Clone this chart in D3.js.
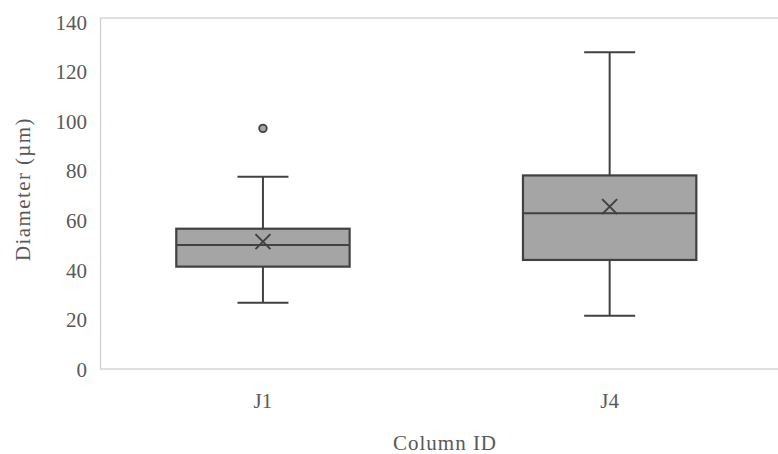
<!DOCTYPE html>
<html>
<head>
<meta charset="utf-8">
<script src="https://cdn.jsdelivr.net/npm/d3@7"></script>
<style>
  html, body { margin: 0; padding: 0; background: #ffffff; }
  svg { display: block; }
  text { font-family: "Liberation Serif", "DejaVu Serif", serif; fill: #595959; }
</style>
</head>
<body>
<svg id="chart" width="778" height="454"></svg>
<script>
// ---- data ----
const categories = ["J1", "J4"];
const mins     = [26.9, 21.7];
const q1s      = [41.5, 44.2];
const medians  = [50.2, 63.0];
const q3s      = [56.8, 78.3];
const maxs     = [77.8, 128.0];
const means    = [51.6, 65.7];
const outliers = [[97.3], []];
const yTicks   = [0, 20, 40, 60, 80, 100, 120, 140];
const yTitle   = "Diameter (µm)";
const xTitle   = "Column ID";

// ---- layout ----
const W = 778, H = 454;
const svg = d3.select("#chart");
const frame = { left: 100.5, top: 18, right: 790, bottom: 369 };

const y = d3.scaleLinear().domain([0, 140]).range([369.5, 22.5]);
const x = d3.scaleBand().domain(categories).range([89.6, 783]).padding(0);

const fill = "#a5a5a5", stroke = "#414141";

// plot-area frame
svg.append("rect")
  .attr("x", frame.left).attr("y", frame.top)
  .attr("width", frame.right - frame.left).attr("height", frame.bottom - frame.top)
  .attr("fill", "none").attr("stroke", "#d0d0d0").attr("stroke-width", 1.3);

// y axis
const yAxis = svg.append("g")
  .attr("transform", `translate(${frame.left},0)`)
  .call(d3.axisLeft(y).tickValues(yTicks).tickSize(0).tickPadding(13.5));
yAxis.select(".domain").remove();
yAxis.selectAll("text").style("font-size", "21px").attr("fill", "#595959")
  .style("font-family", '"Liberation Serif", serif');

// x axis
const xAxis = svg.append("g")
  .attr("transform", `translate(0,${frame.bottom})`)
  .call(d3.axisBottom(x).tickSize(0).tickPadding(24));
xAxis.select(".domain").remove();
xAxis.selectAll("text").style("font-size", "21px").attr("fill", "#595959")
  .style("font-family", '"Liberation Serif", serif');

// titles
svg.append("text")
  .attr("transform", `translate(30,189) rotate(-90)`)
  .attr("text-anchor", "middle")
  .style("font-size", "21px").style("letter-spacing", "1.4px")
  .text(yTitle);
svg.append("text")
  .attr("x", 445).attr("y", 450)
  .attr("text-anchor", "middle")
  .style("font-size", "21px").style("letter-spacing", "1px")
  .text(xTitle);

// boxes
const bw = x.bandwidth() * 0.5;
const capW = 51;
const g = svg.append("g");
categories.forEach((c, i) => {
  const cx = x(c) + x.bandwidth() / 2;
  // whiskers
  g.append("line").attr("x1", cx).attr("x2", cx).attr("y1", y(q3s[i])).attr("y2", y(maxs[i]))
    .attr("stroke", stroke).attr("stroke-width", 2);
  g.append("line").attr("x1", cx).attr("x2", cx).attr("y1", y(q1s[i])).attr("y2", y(mins[i]))
    .attr("stroke", stroke).attr("stroke-width", 2);
  // caps
  [maxs[i], mins[i]].forEach(v => {
    g.append("line").attr("x1", cx - capW / 2).attr("x2", cx + capW / 2)
      .attr("y1", y(v)).attr("y2", y(v))
      .attr("stroke", stroke).attr("stroke-width", 2);
  });
  // box
  g.append("rect")
    .attr("x", cx - bw / 2).attr("y", y(q3s[i]))
    .attr("width", bw).attr("height", y(q1s[i]) - y(q3s[i]))
    .attr("fill", fill).attr("stroke", stroke).attr("stroke-width", 2.2);
  // median
  g.append("line").attr("x1", cx - bw / 2).attr("x2", cx + bw / 2)
    .attr("y1", y(medians[i])).attr("y2", y(medians[i]))
    .attr("stroke", stroke).attr("stroke-width", 2);
  // mean marker (X)
  const my = y(means[i]), s = 7.5;
  g.append("path")
    .attr("d", `M${cx - s},${my - s}L${cx + s},${my + s}M${cx - s},${my + s}L${cx + s},${my - s}`)
    .attr("stroke", stroke).attr("stroke-width", 2).attr("fill", "none");
  // outliers
  outliers[i].forEach(v => {
    g.append("circle").attr("cx", cx).attr("cy", y(v)).attr("r", 3.8)
      .attr("fill", fill).attr("stroke", stroke).attr("stroke-width", 1.8);
  });
});
</script>
</body>
</html>
